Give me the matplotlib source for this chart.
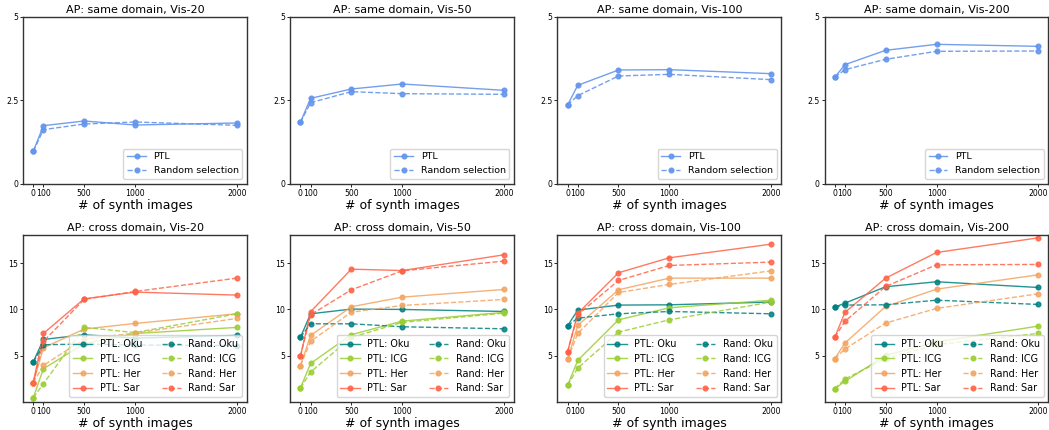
import numpy as np
import matplotlib
matplotlib.use("Agg")
import matplotlib.pyplot as plt

n_synth = [0, 100, 500, 1000, 2000]
vis_sets = ["Vis-20", "Vis-50", "Vis-100", "Vis-200"]

# same domain AP (PTL vs random selection)
same_ptl = [
    [0.97, 1.74, 1.88, 1.76, 1.82],
    [1.84, 2.56, 2.84, 2.99, 2.80],
    [2.36, 2.95, 3.41, 3.42, 3.30],
    [3.19, 3.57, 4.00, 4.18, 4.12],
]
same_rand = [
    [0.97, 1.62, 1.79, 1.85, 1.75],
    [1.84, 2.43, 2.76, 2.70, 2.68],
    [2.36, 2.64, 3.23, 3.28, 3.12],
    [3.19, 3.42, 3.73, 3.97, 3.98],
]

# cross domain AP, one dict per Vis setting
datasets = ["Oku", "ICG", "Her", "Sar"]
colors = ["teal", "yellowgreen", "sandybrown", "tomato"]

cross_ptl = [
    {"Oku": [4.32, 6.76, 7.27, 6.90, 7.20],
     "ICG": [0.47, 3.60, 6.30, 7.40, 8.06],
     "Her": [2.09, 5.86, 7.88, 8.49, 9.53],
     "Sar": [2.09, 7.41, 11.15, 11.87, 11.55]},
    {"Oku": [6.98, 9.53, 10.04, 10.00, 9.78],
     "ICG": [1.51, 4.17, 7.27, 8.74, 9.68],
     "Her": [3.92, 7.19, 10.29, 11.33, 12.16],
     "Sar": [4.93, 9.75, 14.35, 14.20, 15.90]},
    {"Oku": [8.24, 9.93, 10.47, 10.50, 10.80],
     "ICG": [1.80, 4.50, 8.88, 10.18, 11.00],
     "Her": [4.60, 8.27, 12.12, 13.38, 13.38],
     "Sar": [5.43, 9.57, 13.96, 15.58, 17.05]},
    {"Oku": [10.25, 10.68, 12.45, 12.99, 12.37],
     "ICG": [1.44, 2.23, 5.04, 6.50, 8.20],
     "Her": [4.68, 6.37, 10.32, 12.19, 13.74],
     "Sar": [6.98, 9.68, 13.38, 16.15, 17.73]},
]
cross_rand = [
    {"Oku": [4.32, 6.19, 6.26, 6.15, 6.10],
     "ICG": [0.47, 1.98, 8.06, 7.50, 9.53],
     "Her": [2.09, 3.96, 6.80, 7.45, 9.03],
     "Sar": [2.09, 6.55, 11.08, 11.94, 13.38]},
    {"Oku": [6.98, 8.45, 8.45, 8.13, 7.91],
     "ICG": [1.51, 3.24, 6.98, 8.60, 9.60],
     "Her": [3.92, 6.55, 9.71, 10.43, 11.08],
     "Sar": [4.93, 9.42, 12.12, 14.17, 15.22]},
    {"Oku": [8.24, 9.06, 9.53, 9.78, 9.53],
     "ICG": [1.80, 3.67, 7.55, 8.88, 10.80],
     "Her": [4.60, 7.41, 11.83, 12.70, 14.17],
     "Sar": [5.43, 9.42, 13.13, 14.75, 15.11]},
    {"Oku": [10.25, 10.47, 10.50, 11.00, 10.54],
     "ICG": [1.44, 2.48, 4.70, 6.20, 7.41],
     "Her": [4.68, 5.72, 8.53, 10.11, 11.69],
     "Sar": [6.98, 8.71, 12.48, 14.82, 14.86]},
]

lw = 1.0
ms = 3.4

fig, axes = plt.subplots(2, 4, figsize=(10.49, 4.30), dpi=100)

for i, vis in enumerate(vis_sets):
    # top row: same domain
    ax = axes[0, i]
    ax.plot(n_synth, same_ptl[i], "o-", color="cornflowerblue", lw=lw, markersize=ms, alpha=0.9, label="PTL")
    ax.plot(n_synth, same_rand[i], "o--", color="cornflowerblue", lw=lw, markersize=ms, alpha=0.9, label="Random selection")
    ax.set_ylim(0, 5)
    ax.set_yticks([0, 2.5, 5])
    ax.set_yticklabels(["0", "2.5", "5"])
    ax.set_title("AP: same domain, " + vis, fontsize=8, pad=3)
    ax.legend(loc="lower right", fontsize=6.8)

    # bottom row: cross domain
    ax = axes[1, i]
    for name, c in zip(datasets, colors):
        ax.plot(n_synth, cross_ptl[i][name], "o-", color=c, lw=lw, markersize=ms, alpha=0.85, label="PTL: " + name)
    for name, c in zip(datasets, colors):
        ax.plot(n_synth, cross_rand[i][name], "o--", color=c, lw=lw, markersize=ms, alpha=0.85, label="Rand: " + name)
    ax.set_ylim(0, 18)
    ax.set_yticks([5, 10, 15])
    ax.set_title("AP: cross domain, " + vis, fontsize=8, pad=3)
    ax.legend(loc="lower right", ncol=2, fontsize=6.9)

for ax in axes.flat:
    ax.set_xticks(n_synth)
    ax.set_xticklabels(["0", "100", "500", "1000", "2000"])
    ax.tick_params(labelsize=5.6, length=2, width=0.6, pad=1.5)
    ax.set_xlabel("# of synth images", fontsize=9, labelpad=1)
    for s in ax.spines.values():
        s.set_linewidth(1.0)
        s.set_color("#333333")

plt.subplots_adjust(left=0.022, right=0.9995, top=0.9605, bottom=0.065, wspace=0.193, hspace=0.31)
plt.savefig("out.png")
